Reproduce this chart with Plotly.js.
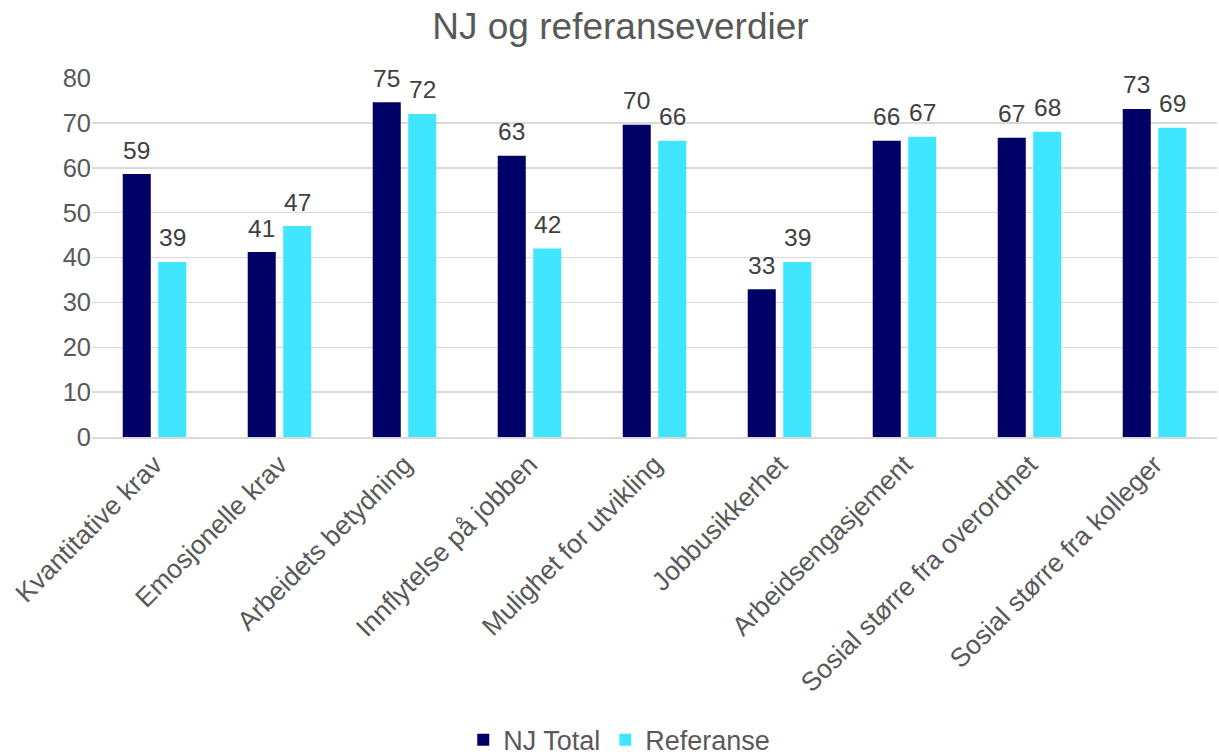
<!DOCTYPE html>
<html>
<head>
<meta charset="utf-8">
<script src="https://cdn.plot.ly/plotly-3.0.1.min.js"></script>
<style>html,body{margin:0;padding:0;background:#fff;}#chart{width:1219px;height:756px;}</style>
</head>
<body>
<div id="chart"></div>
<script>
const categories = ["Kvantitative krav","Emosjonelle krav","Arbeidets betydning","Innflytelse på jobben","Mulighet for utvikling","Jobbusikkerhet","Arbeidsengasjement","Sosial større fra overordnet","Sosial større fra kolleger"];
const njTotal = [58.6, 41.2, 74.6, 62.7, 69.6, 32.9, 66.0, 66.7, 73.1];
const referanse = [39.0, 47.0, 72.0, 42.0, 66.0, 39.0, 66.9, 68.0, 68.9];
const yTicks = [0,10,20,30,40,50,60,70,80];

const FONT = "Liberation Sans, Arial, sans-serif";
const traces = [
  {type:'bar', name:'NJ Total', x:categories, y:njTotal, marker:{color:'#000066'}, hoverinfo:'x+y'},
  {type:'bar', name:'Referanse', x:categories, y:referanse, marker:{color:'#40E6FF'}, hoverinfo:'x+y'}
];
const annotations = [];
[[njTotal,-17.75],[referanse,17.75]].forEach(([vals,dx]) => {
  vals.forEach((v,i) => {
    annotations.push({x:categories[i], y:v, xref:'x', yref:'y', text:String(Math.round(v)),
      showarrow:false, xshift:dx, yshift:24, yanchor:'middle', xanchor:'center',
      font:{family:FONT,size:24.5,color:'#404040'}});
  });
});
const layout = {
  width:1219, height:756,
  margin:{l:92, r:2, t:78, b:319},
  paper_bgcolor:'#fff', plot_bgcolor:'#fff',
  font:{family:FONT, color:'#595959', size:25},
  title:{text:'NJ og referanseverdier', font:{family:FONT,size:37,color:'#595959'},
         xref:'container', x:0.509, xanchor:'center', yref:'container', y:0.966, yanchor:'middle'},
  barmode:'group', bargap:0.432, bargroupgap:0.21,
  xaxis:{tickangle:-45, tickfont:{family:FONT,size:26.5,color:'#595959'}, showgrid:false,
         showline:true, linecolor:'#d9d9d9', linewidth:1.5, ticks:'', automargin:false},
  yaxis:{range:[0,80], tickvals:yTicks, ticktext:yTicks.map(String), showgrid:true, gridcolor:'#d9d9d9', gridwidth:1.5,
         zeroline:false, showline:false, ticks:'', ticklen:0, tickfont:{family:FONT,size:25.5,color:'#595959'}, automargin:false},
  annotations: annotations,
  showlegend:true,
  legend:{orientation:'h', xref:'container', x:0.508, xanchor:'center', yref:'container', y:0.021, yanchor:'middle',
          font:{family:FONT,size:27,color:'#595959'}, itemwidth:30, tracegroupgap:0}
};
Plotly.newPlot('chart', traces, layout, {displayModeBar:false, staticPlot:true});
</script>
</body>
</html>
